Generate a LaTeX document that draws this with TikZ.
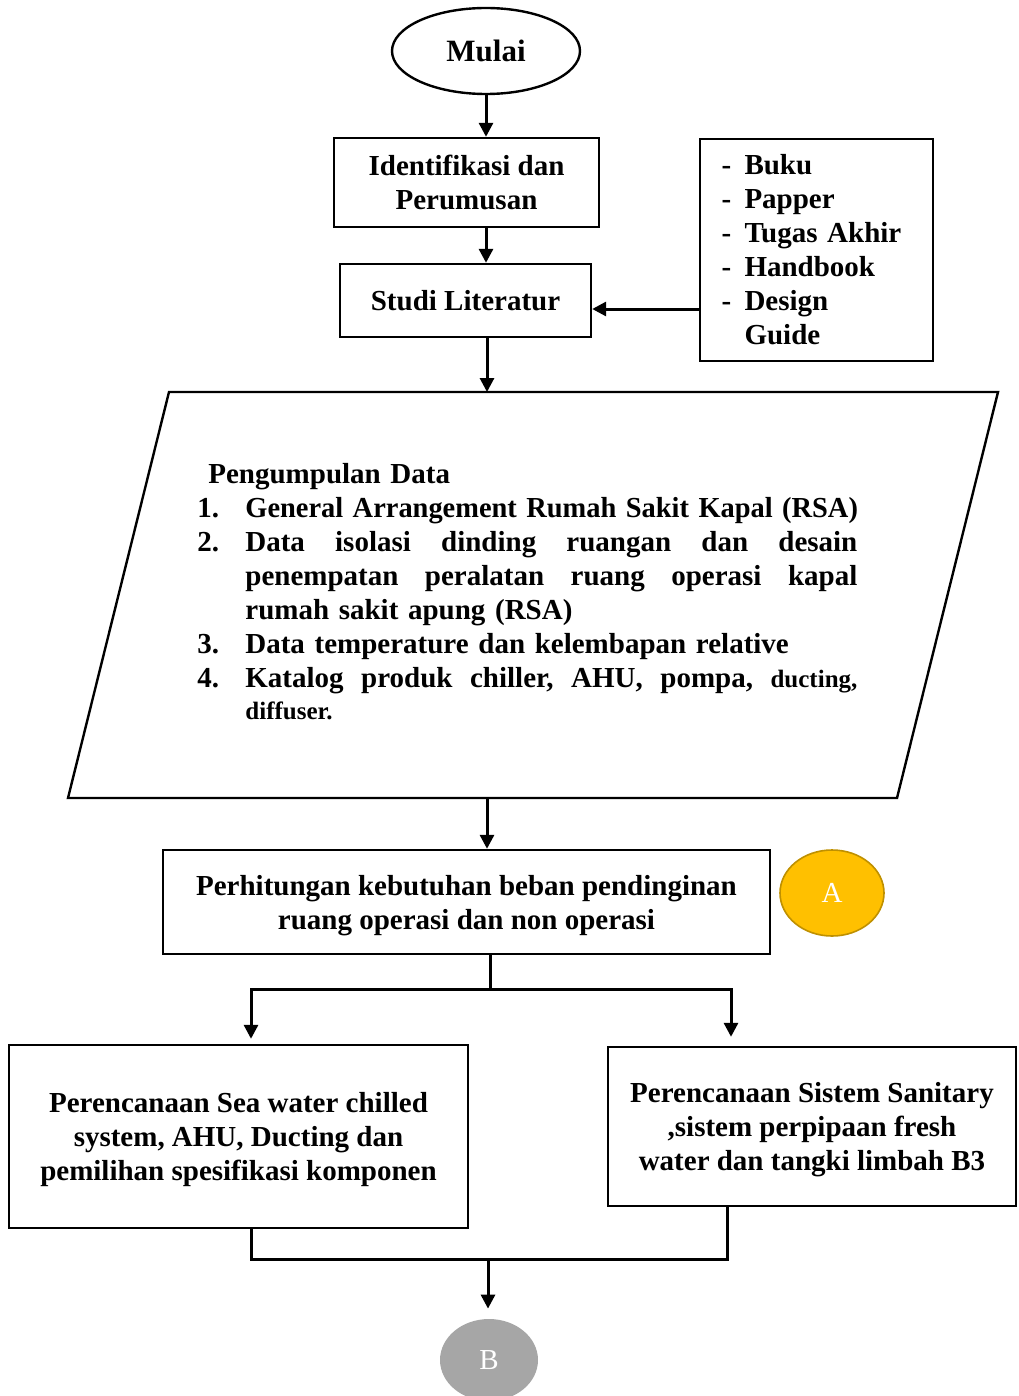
\documentclass[tikz,border=0pt]{standalone}
\usepackage{fontspec}
\usepackage{graphicx}
\setmainfont{Liberation Serif}
\usetikzlibrary{arrows.meta,shapes.geometric}
\definecolor{gold}{HTML}{FFC000}
\definecolor{goldedge}{HTML}{BF9000}
\definecolor{greyB}{HTML}{A6A6A6}
\begin{document}
\begin{tikzpicture}[x=0.5pt,y=-0.5pt,
  every node/.style={font=\fontsize{14.5}{17}\selectfont\bfseries, inner sep=0pt},
  box/.style={draw, line width=1.2pt, align=center, text depth=-2pt},
  arr/.style={line width=1.5pt, -{Triangle[length=7pt,width=7pt]}},
  ln/.style={line width=1.5pt, line cap=rect, line join=miter},
  circ/.style={ellipse, text=white, font=\fontsize{14.5}{17}\selectfont},
]
\useasboundingbox (0,0) rectangle (1018,1396);

% nodes
\node[draw, ellipse, line width=1.2pt, minimum width=94pt, minimum height=43pt,
      font=\fontsize{15.5}{17}\selectfont\bfseries] (mulai) at (486,51) {Mulai};
\node[box, minimum width=132.5pt, minimum height=44.5pt] (ident) at (466.5,182.5) {Identifikasi dan\\Perumusan};
\node[box, minimum width=125.5pt, minimum height=36.5pt] (studi) at (465.5,300.5) {Studi Literatur};
\node[draw, line width=1.2pt, minimum width=116.5pt, minimum height=111pt, align=left, text width=95pt] (ref) at (816.5,250)
  {\makebox[11.5pt][l]{-}Buku\\
   \makebox[11.5pt][l]{-}Papper\\
   \makebox[11.5pt][l]{-}Tugas Akhir\\
   \makebox[11.5pt][l]{-}Handbook\\
   \makebox[11.5pt][l]{-}Design\\
   \hspace*{11.5pt}Guide};

% parallelogram
\coordinate (pTL) at (169,392);
\coordinate (pTR) at (998,392);
\coordinate (pBR) at (897,798);
\coordinate (pBL) at (68,798);
\coordinate (ptop) at (487,392);
\coordinate (pbot) at (487,798);
\draw[line width=1.2pt, line join=miter] (pTL) -- (pTR) -- (pBR) -- (pBL) -- cycle;
\node[anchor=north west, text width=340pt, align=left] (data) at (197,463)
  {\hspace*{5.5pt}Pengumpulan Data\\
   \makebox[24pt][l]{1.}\scalebox{0.98}[1]{General Arrangement Rumah Sakit Kapal (RSA)}\\
   \makebox[24pt][l]{2.}\hbox to 306pt{Data\hfill isolasi\hfill dinding\hfill ruangan\hfill dan\hfill desain}\\
   \hspace*{24pt}\hbox to 306pt{penempatan\hfill peralatan\hfill ruang\hfill operasi\hfill kapal}\\
   \hspace*{24pt}rumah sakit apung (RSA)\\
   \makebox[24pt][l]{3.}Data temperature dan kelembapan relative\\
   \makebox[24pt][l]{4.}\hbox to 306pt{Katalog\hfill produk\hfill chiller,\hfill AHU,\hfill pompa,\hfill {\fontsize{12.5}{17}\selectfont ducting,}}\\[-1pt]
   \hspace*{24pt}{\fontsize{12.5}{16}\selectfont diffuser.}};

\node[box, minimum width=303.5pt, minimum height=52pt] (perh) at (466.5,902)
  {Perhitungan kebutuhan beban pendinginan\\ruang operasi dan non operasi};
\node[circ, fill=gold, draw=goldedge, line width=0.8pt, minimum width=52pt, minimum height=43pt] (A) at (832,893) {A};

\node[box, minimum width=229.5pt, minimum height=91.5pt] (left) at (238.5,1136.5)
  {Perencanaan Sea water chilled\\system, AHU, Ducting dan\\pemilihan spesifikasi komponen};
\node[box, minimum width=204pt, minimum height=79.5pt] (right) at (812,1126.5)
  {Perencanaan Sistem Sanitary\\,sistem perpipaan fresh\\water dan tangki limbah B3};

\node[circ, fill=greyB, minimum width=49pt, minimum height=41pt] (B) at (489,1360) {B};

% connectors
\draw[arr] (mulai.south) -- (mulai.south |- ident.north);
\draw[arr] (ident.south -| mulai.south) -- (studi.north -| mulai.south);
\draw[arr] (ref.west |- 0,309) -- (studi.east |- 0,309);
\draw[arr] (studi.south -| ptop) -- (ptop);
\draw[arr] (pbot) -- (perh.north -| pbot);

\coordinate (split) at (490,989);
\coordinate (sl) at (251,989);
\coordinate (sr) at (731,989);
\draw[ln] (perh.south -| split) -- (split);
\draw[ln] (sl) -- (sr);
\draw[arr, shorten >=2.5pt] (sl) -- (sl |- left.north);
\draw[arr, shorten >=4.5pt] (sr) -- (sr |- right.north);

\coordinate (ml) at (251,1259);
\coordinate (mr) at (727,1259);
\coordinate (mm) at (488,1259);
\draw[ln] (left.south -| ml) -- (ml) -- (mr) -- (right.south -| mr);
\draw[arr, shorten >=5pt] (mm) -- (mm |- B.north);
\end{tikzpicture}
\end{document}
